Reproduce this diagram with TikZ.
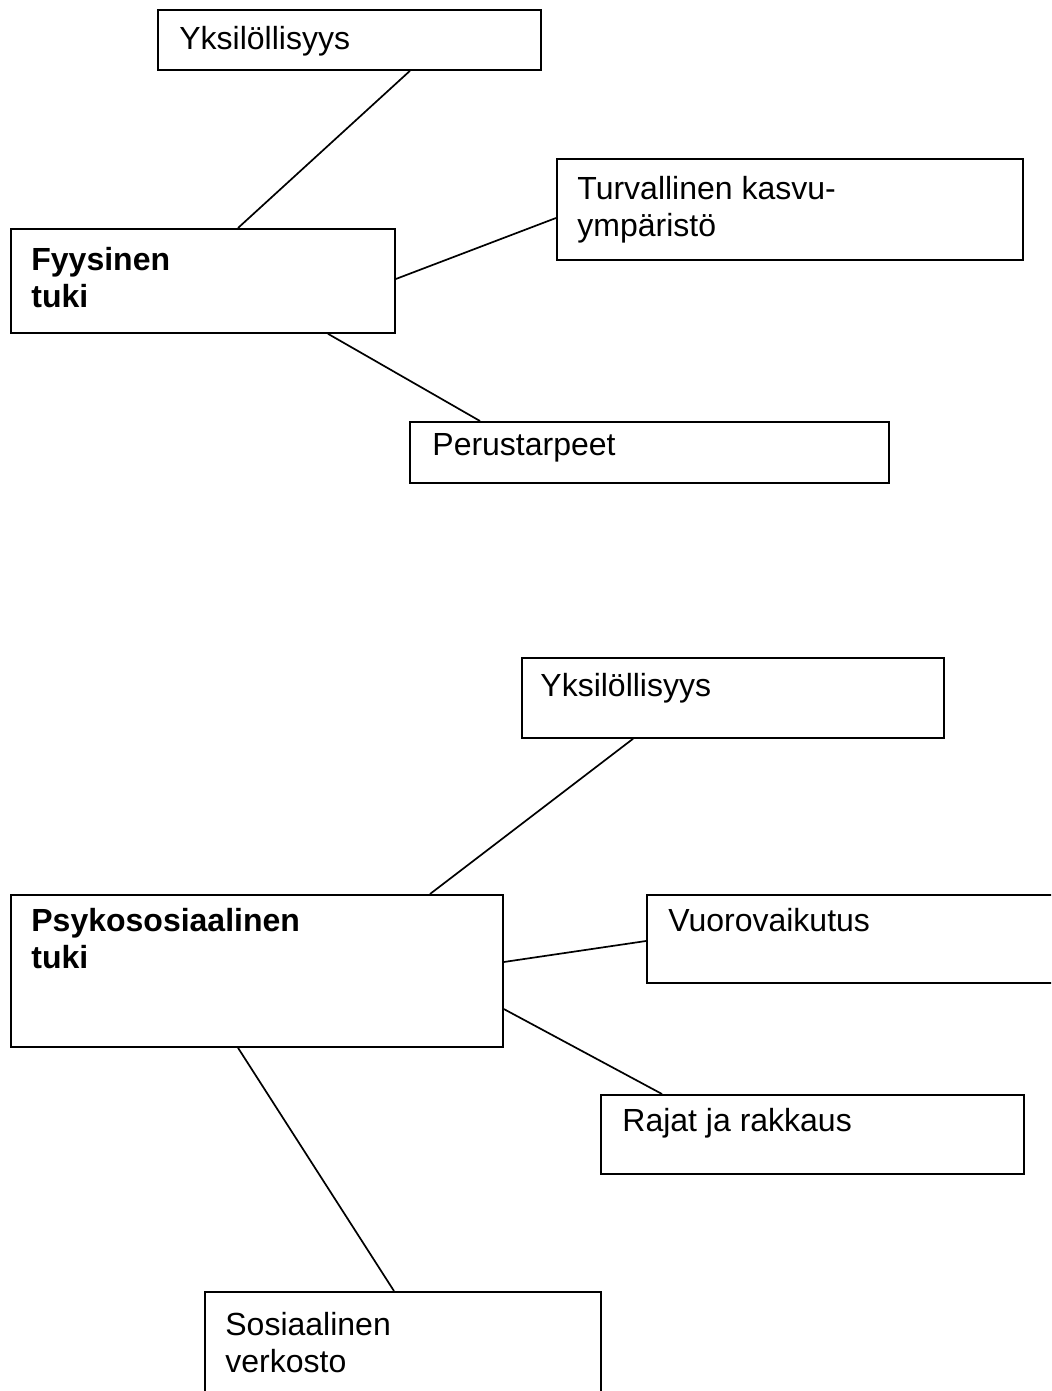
\documentclass[tikz,border=0pt]{standalone}
\usepackage{fontspec}
\setmainfont{Liberation Sans}
\usetikzlibrary{positioning,calc}

\begin{document}
\begin{tikzpicture}[x=0.5pt,y=-0.5pt]
    % `laatikko' is the frame of a box, `teksti' the words in its top left corner.
    \tikzstyle{laatikko} = [draw,line width=0.9pt,anchor=north west,inner sep=0pt]
    \tikzstyle{teksti} = [inner sep=0pt,align=left,font=\fontsize{16}{18.5}\selectfont]
    \tikzstyle{viiva} = [line width=0.85pt]
    %
    \useasboundingbox (0,0) rectangle (1051,1391);
    \clip (0,0) rectangle (1051,1391);
    % Upper group.
    \node[laatikko,minimum width=191.5pt,minimum height=30pt] (yks1) at (157,9) {};
    \node[laatikko,minimum width=233pt,minimum height=50.5pt] (turva) at (556,158) {};
    \node[laatikko,minimum width=192pt,minimum height=52pt] (fyys) at (10,228) {};
    \node[laatikko,minimum width=239.5pt,minimum height=30.5pt] (perus) at (409,421) {};
    \node[teksti,below right=8.5pt and 11pt of yks1.north west] (yks1t) {Yksilöllisyys};
    \node[teksti,below right=9pt and 10.5pt of turva.north west] (turvat) {Turvallinen kasvu-\\ympäristö};
    \node[teksti,below right=9.5pt and 10.5pt of fyys.north west,font=\fontsize{16}{18.5}\selectfont\bfseries] (fyyst) {Fyysinen\\tuki};
    \node[teksti,below right=6pt and 11.5pt of perus.north west] (perust) {Perustarpeet};
    % Lower group.
    \node[laatikko,minimum width=211pt,minimum height=40pt] (yks2) at (521,657) {};
    \node[laatikko,minimum width=246pt,minimum height=76pt] (psyko) at (10,894) {};
    \node[laatikko,minimum width=215pt,minimum height=44pt] (vuoro) at (646,894) {};
    \node[laatikko,minimum width=211.5pt,minimum height=39.5pt] (rajat) at (600,1094) {};
    \node[laatikko,minimum width=198pt,minimum height=65pt] (sos) at (204,1291) {};
    \node[teksti,below right=8pt and 9.5pt of yks2.north west] (yks2t) {Yksilöllisyys};
    \node[teksti,below right=7pt and 10.5pt of psyko.north west,font=\fontsize{16}{18.5}\selectfont\bfseries] (psykot) {Psykososiaalinen\\tuki};
    \node[teksti,below right=7pt and 11pt of vuoro.north west] (vuorot) {Vuorovaikutus};
    \node[teksti,below right=7pt and 11pt of rajat.north west] (rajatt) {Rajat ja rakkaus};
    \node[teksti,below right=10.5pt and 10.5pt of sos.north west] (sost) {Sosiaalinen\\verkosto};
    % Draw lines.
    \draw[viiva] ($(fyys.north west)+(228,0)$) -- ($(yks1.south west)+(253,0)$);
    \draw[viiva] ($(fyys.north east)+(0,51)$) -- ($(turva.north west)+(0,60)$);
    \draw[viiva] ($(fyys.south west)+(318,0)$) -- ($(perus.north west)+(71,0)$);
    \draw[viiva] ($(psyko.north west)+(420,0)$) -- ($(yks2.south west)+(112,0)$);
    \draw[viiva] ($(psyko.north east)+(0,68)$) -- ($(vuoro.north west)+(0,47)$);
    \draw[viiva] ($(psyko.north east)+(0,115)$) -- ($(rajat.north west)+(62,0)$);
    \draw[viiva] ($(psyko.south west)+(228,0)$) -- ($(sos.north west)+(190,0)$);
\end{tikzpicture}
\end{document}
